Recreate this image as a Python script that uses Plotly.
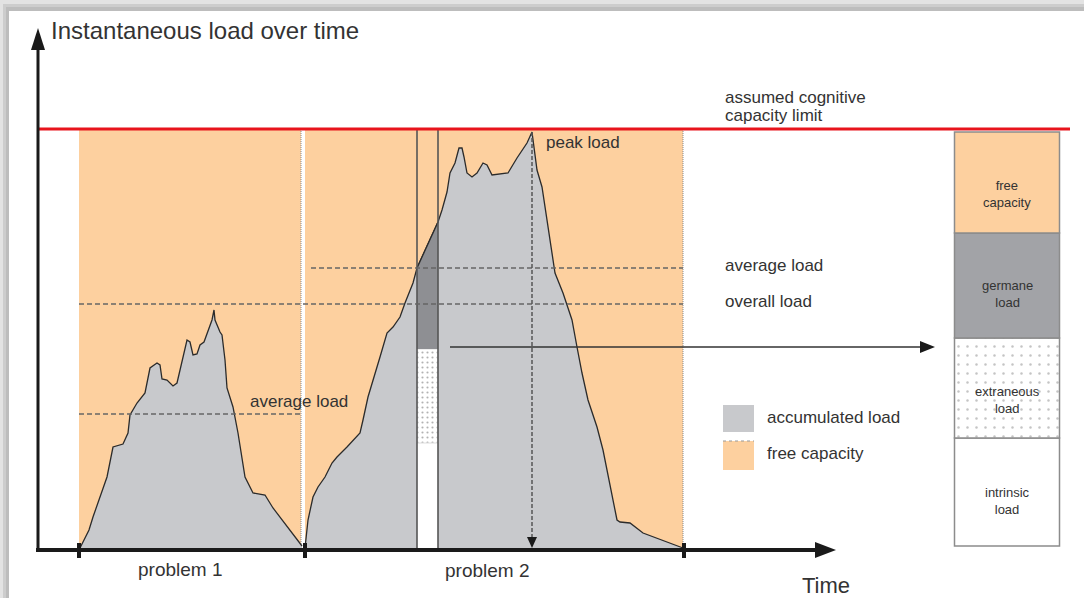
import plotly.graph_objects as go

# ---------------- data ----------------
CAPACITY = 421
problem_labels = ["problem 1", "problem 2"]
problem_start = [79, 305]
problem_end = [301, 683]

p1_time = [79, 80, 89, 93, 102, 107, 113, 123, 128, 130, 137, 145, 150, 157, 160, 162, 167, 173, 177, 187,
           190, 193, 197, 200, 204, 212, 214, 215, 220, 222, 225, 227, 233, 238, 245, 253, 265, 273, 302]
p1_load = [0, 2, 20, 33, 60, 73, 103, 106, 117, 135, 147, 157, 182, 187, 185, 171, 170, 164, 167, 210,
           208, 195, 196, 205, 208, 230, 240, 230, 218, 215, 190, 162, 143, 117, 73, 57, 55, 42, 4]

p2_time = [305, 305, 308, 313, 318, 325, 332, 337, 347, 360, 363, 368, 380, 387, 393, 400, 405, 413, 417, 438,
           442, 447, 450, 455, 459, 462, 464, 467, 472, 477, 483, 487, 492, 508, 517, 527, 532, 537, 542, 547,
           555, 563, 572, 577, 582, 588, 597, 603, 610, 617, 620, 630, 643, 683]
p2_load = [0, 2, 30, 53, 63, 73, 87, 93, 103, 117, 130, 153, 193, 217, 223, 233, 247, 267, 282, 328,
           340, 358, 377, 387, 402, 402, 393, 377, 373, 377, 387, 385, 375, 377, 392, 407, 418, 380, 363, 330,
           277, 257, 230, 203, 177, 150, 123, 100, 63, 30, 28, 27, 17, 2]

avg_load = [136, 282]
avg_start = [79, 311]
overall_load = 246

slice_start, slice_end = 417, 438
intrinsic_top = 107
extraneous_top = 201

bar_labels = ["intrinsic<br>load", "extraneous<br>load", "germane<br>load", "free<br>capacity"]
bar_values = [108, 100, 105, 101]
bar_base0 = 4

# ---------------- style ----------------
ORANGE = "#FDD09F"
GRAY = "#C8C9CC"
DARK = "#8E8F93"
GERMANE = "#A2A3A7"
TXT = "#333333"
FONT = "Liberation Sans, Arial, sans-serif"

fig = go.Figure()

# problem areas (free capacity background)
for s, e in zip(problem_start, problem_end):
    fig.add_trace(go.Scatter(x=[s, e, e, s, s], y=[0, 0, CAPACITY - 1, CAPACITY - 1, 0], mode="lines",
                             fill="toself", fillcolor=ORANGE, line=dict(width=0), hoverinfo="skip"))
    fig.add_trace(go.Scatter(x=[e, e], y=[0, CAPACITY - 1], mode="lines",
                             line=dict(color="#8a8a8a", width=1, dash="1px,1px"), hoverinfo="skip"))

# load curves
for t, l in [(p1_time, p1_load), (p2_time, p2_load)]:
    fig.add_trace(go.Scatter(x=t, y=l, mode="lines", fill="tozeroy", fillcolor=GRAY,
                             line=dict(color="#2b2b2b", width=1.3), hoverinfo="skip"))

# slice of problem 2
g_left = p2_load[p2_time.index(slice_start)]
g_right = p2_load[p2_time.index(slice_end)]
fig.add_trace(go.Scatter(x=[slice_start, slice_end, slice_end, slice_start, slice_start],
                         y=[0, 0, intrinsic_top, intrinsic_top, 0], mode="lines", fill="toself",
                         fillcolor="white", line=dict(width=0), hoverinfo="skip"))
fig.add_trace(go.Scatter(x=[slice_start, slice_end, slice_end, slice_start, slice_start],
                         y=[intrinsic_top, intrinsic_top, extraneous_top, extraneous_top, intrinsic_top],
                         mode="lines", fill="toself", fillcolor="white",
                         fillpattern=dict(shape=".", size=5, solidity=0.15, fgcolor="#666", bgcolor="white"),
                         line=dict(color="#dddddd", width=1), hoverinfo="skip"))
fig.add_trace(go.Scatter(x=[slice_start, slice_end, slice_end, slice_start, slice_start],
                         y=[extraneous_top, extraneous_top, g_right, g_left, extraneous_top],
                         mode="lines", fill="toself", fillcolor=DARK, line=dict(width=0), hoverinfo="skip"))
fig.add_trace(go.Scatter(x=[slice_start, slice_end], y=[g_left, g_right], mode="lines",
                         line=dict(color="#2b2b2b", width=1.3), hoverinfo="skip"))
for xv in [slice_start, slice_end]:
    fig.add_trace(go.Scatter(x=[xv, xv], y=[0, CAPACITY - 1], mode="lines",
                             line=dict(color="#555555", width=1.6), hoverinfo="skip"))

# dashed average / overall lines
for a, s, e in zip(avg_load, avg_start, problem_end):
    fig.add_trace(go.Scatter(x=[s, e], y=[a, a], mode="lines",
                             line=dict(color="#666666", width=1.4, dash="5px,3px"), hoverinfo="skip"))
fig.add_trace(go.Scatter(x=[problem_start[0], problem_end[1]], y=[overall_load, overall_load], mode="lines",
                         line=dict(color="#666666", width=1.4, dash="5px,3px"), hoverinfo="skip"))

# peak marker
pk = p2_load.index(max(p2_load))
peak_t, peak_l = p2_time[pk], p2_load[pk]
fig.add_trace(go.Scatter(x=[peak_t, peak_t], y=[peak_l, 12], mode="lines",
                         line=dict(color="#555555", width=1.5, dash="4px,2px"), hoverinfo="skip"))

# arrow from slice to stacked bar
arrow_y = extraneous_top + 2
fig.add_trace(go.Scatter(x=[450, 921], y=[arrow_y, arrow_y], mode="lines",
                         line=dict(color="#333333", width=1.3), hoverinfo="skip"))

# capacity limit
fig.add_trace(go.Scatter(x=[38, 1070], y=[CAPACITY, CAPACITY], mode="lines",
                         line=dict(color="#E8141C", width=3), hoverinfo="skip"))

# stacked bar (load components)
bar_colors = ["white", "white", GERMANE, ORANGE]
bar_shapes = ["", ".", "", ""]
base = bar_base0
for lab, v, c, shp in zip(bar_labels, bar_values, bar_colors, bar_shapes):
    fig.add_trace(go.Bar(x=[1007], y=[v], base=[base], width=[105], marker=dict(
        color=c, line=dict(color="#8c8c8c", width=1.5),
        pattern=dict(shape=shp, size=9, solidity=0.06, fgcolor="#c4c4c4", bgcolor=c, fillmode="replace")),
        hoverinfo="skip"))
    base += v

# ---------------- decorations ----------------
shapes = []
# drop shadow frame
shapes += [
    dict(type="rect", x0=0, x1=1084, y0=-48, y1=550, fillcolor="#e3e3e3", line_width=0, layer="below"),
    dict(type="rect", x0=3, x1=1084, y0=-48, y1=546, fillcolor="#cdcdcd", line_width=0, layer="below"),
    dict(type="rect", x0=6, x1=1084, y0=-48, y1=543, fillcolor="#bdbdbd", line_width=0, layer="below"),
    dict(type="rect", x0=9, x1=1084, y0=-48, y1=539, fillcolor="white", line_width=0, layer="below"),
]
# axes
shapes += [
    dict(type="line", x0=38, x1=38, y0=-1, y1=503, line=dict(color="#1a1a1a", width=3)),
    dict(type="path", path="M 31,500 L 45,500 L 38,522 Z", fillcolor="#1a1a1a", line_width=0),
    dict(type="line", x0=36, x1=818, y0=0, y1=0, line=dict(color="#1a1a1a", width=4)),
    dict(type="path", path="M 815,8 L 815,-8 L 836,0 Z", fillcolor="#1a1a1a", line_width=0),
]
for xt in [problem_start[0], problem_start[1], problem_end[1] + 1]:
    shapes.append(dict(type="rect", x0=xt - 2, x1=xt + 2, y0=-8, y1=7, fillcolor="#1a1a1a", line_width=0))
# arrowheads
shapes.append(dict(type="path", path="M 920,209 L 920,197 L 935,203 Z", fillcolor="#1a1a1a", line_width=0))
shapes.append(dict(type="path", path=f"M {peak_t-5},13 L {peak_t+5},13 L {peak_t},2 Z", fillcolor="#1a1a1a", line_width=0))
# legend swatches
shapes.append(dict(type="rect", x0=723, x1=754, y0=118, y1=145, fillcolor=GRAY, line_width=0))
shapes.append(dict(type="rect", x0=723, x1=754, y0=80, y1=109, fillcolor=ORANGE, line_width=0))
shapes.append(dict(type="line", x0=723, x1=754, y0=109, y1=109, line=dict(color="#999", width=1, dash="dot")))

ann = []
def txt(x, y, s, size=17, anchor="left", color=TXT):
    ann.append(dict(x=x, y=y, text=s, showarrow=False, xanchor=anchor, yanchor="middle",
                    font=dict(family=FONT, size=size, color=color)))

txt(49, 520, "Instantaneous load over time", 24)
txt(826, -35, "Time", 22, "center")
txt(180, -19, problem_labels[0], 19, "center")
txt(487, -20, problem_labels[1], 19, "center")
txt(723, 453, "assumed cognitive", 17)
txt(723, 435, "capacity limit", 17)
txt(723, 285, "average load", 17)
txt(723, 249, "overall load", 17)
txt(248, 149, "average load", 17)
txt(544, 408, "peak load", 17)
txt(765, 133, "accumulated load", 17)
txt(765, 97, "free capacity", 17)
bar_text_y = [49, 150, 256, 356]
for lab, yy in zip(bar_labels, bar_text_y):
    txt(1007, yy, lab, 13, "center")

fig.update_layout(
    width=1084, height=598, margin=dict(l=0, r=0, t=0, b=0),
    paper_bgcolor="white", plot_bgcolor="white", showlegend=False,
    barmode="overlay", shapes=shapes, annotations=ann,
    xaxis=dict(range=[0, 1084], visible=False, fixedrange=True),
    yaxis=dict(range=[-48, 550], visible=False, fixedrange=True),
)
fig.write_html("out.html", config={"displayModeBar": False},
               post_script="document.body.style.margin='0px';document.body.style.overflow='hidden';")
